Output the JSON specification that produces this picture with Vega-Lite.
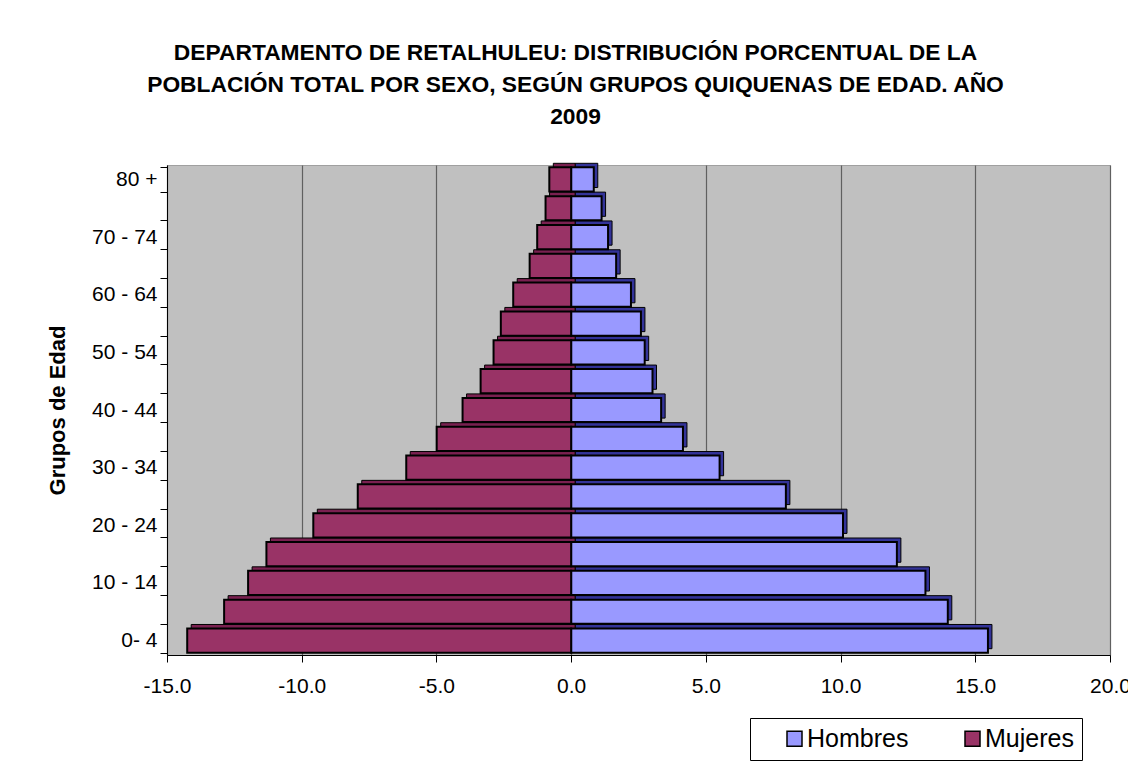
{
  "$schema": "https://vega.github.io/schema/vega-lite/v6.json",
  "width": 943,
  "height": 490,
  "autosize": {"type": "none"},
  "padding": {"left": 167, "top": 165, "right": 18, "bottom": 106},
  "background": "white",
  "config": {
    "font": "Liberation Sans",
    "view": {"fill": "#C0C0C0", "stroke": "#A0A0A0"}
  },
  "title": {
    "text": ["DEPARTAMENTO DE RETALHULEU: DISTRIBUCIÓN PORCENTUAL DE LA", "POBLACIÓN TOTAL POR SEXO, SEGÚN GRUPOS QUIQUENAS DE EDAD. AÑO", "2009"],
    "font": "Liberation Sans",
    "fontSize": 22.8,
    "fontWeight": "bold",
    "color": "black",
    "lineHeight": 32,
    "anchor": "middle",
    "dx": -63,
    "offset": 25
  },
  "data": {
    "values": [
      {"group": "0- 4", "sex": "Hombres", "value": 15.47},
      {"group": "5 - 9", "sex": "Hombres", "value": 13.98},
      {"group": "10 - 14", "sex": "Hombres", "value": 13.15},
      {"group": "15 - 19", "sex": "Hombres", "value": 12.09},
      {"group": "20 - 24", "sex": "Hombres", "value": 10.09},
      {"group": "25 - 29", "sex": "Hombres", "value": 7.97},
      {"group": "30 - 34", "sex": "Hombres", "value": 5.51},
      {"group": "35 - 39", "sex": "Hombres", "value": 4.15},
      {"group": "40 - 44", "sex": "Hombres", "value": 3.34},
      {"group": "45 - 49", "sex": "Hombres", "value": 3.02},
      {"group": "50 - 54", "sex": "Hombres", "value": 2.73},
      {"group": "55 - 59", "sex": "Hombres", "value": 2.59},
      {"group": "60 - 64", "sex": "Hombres", "value": 2.22},
      {"group": "65 - 69", "sex": "Hombres", "value": 1.67},
      {"group": "70 - 74", "sex": "Hombres", "value": 1.37},
      {"group": "75 - 79", "sex": "Hombres", "value": 1.13},
      {"group": "80 +", "sex": "Hombres", "value": 0.84},
      {"group": "0- 4", "sex": "Mujeres", "value": -14.25},
      {"group": "5 - 9", "sex": "Mujeres", "value": -12.88},
      {"group": "10 - 14", "sex": "Mujeres", "value": -11.99},
      {"group": "15 - 19", "sex": "Mujeres", "value": -11.31},
      {"group": "20 - 24", "sex": "Mujeres", "value": -9.57},
      {"group": "25 - 29", "sex": "Mujeres", "value": -7.92},
      {"group": "30 - 34", "sex": "Mujeres", "value": -6.12},
      {"group": "35 - 39", "sex": "Mujeres", "value": -4.99},
      {"group": "40 - 44", "sex": "Mujeres", "value": -4.03},
      {"group": "45 - 49", "sex": "Mujeres", "value": -3.36},
      {"group": "50 - 54", "sex": "Mujeres", "value": -2.88},
      {"group": "55 - 59", "sex": "Mujeres", "value": -2.61},
      {"group": "60 - 64", "sex": "Mujeres", "value": -2.15},
      {"group": "65 - 69", "sex": "Mujeres", "value": -1.54},
      {"group": "70 - 74", "sex": "Mujeres", "value": -1.26},
      {"group": "75 - 79", "sex": "Mujeres", "value": -0.95},
      {"group": "80 +", "sex": "Mujeres", "value": -0.81}
    ]
  },
  "encoding": {
    "y": {
      "field": "group",
      "type": "nominal",
      "scale": {
        "domain": ["80 +", "75 - 79", "70 - 74", "65 - 69", "60 - 64", "55 - 59", "50 - 54", "45 - 49", "40 - 44", "35 - 39", "30 - 34", "25 - 29", "20 - 24", "15 - 19", "10 - 14", "5 - 9", "0- 4"],
        "paddingInner": 0.16,
        "paddingOuter": 0.08
      },
      "axis": {
        "title": "Grupos de Edad",
        "titleFont": "Liberation Sans",
        "titleFontSize": 22,
        "titleFontWeight": "bold",
        "titleColor": "black",
        "titlePadding": 22,
        "labelExpr": "indexof(['0- 4','10 - 14','20 - 24','30 - 34','40 - 44','50 - 54','60 - 64','70 - 74','80 +'], datum.value) >= 0 ? datum.label : ''",
        "tickBand": "extent",
        "labelFont": "Liberation Sans",
        "labelFontSize": 21,
        "labelColor": "black",
        "labelPadding": 3,
        "domainColor": "black",
        "tickColor": "black",
        "tickSize": 7,
        "grid": false
      }
    },
    "x": {
      "field": "value",
      "type": "quantitative",
      "scale": {"domain": [-15, 20], "nice": false},
      "axis": {
        "title": null,
        "values": [-15, -10, -5, 0, 5, 10, 15, 20],
        "labelExpr": "replace(format(datum.value, '.1f'), '\u2212', '-')",
        "labelFont": "Liberation Sans",
        "labelFontSize": 21,
        "labelColor": "black",
        "labelPadding": 13,
        "domainColor": "black",
        "tickColor": "black",
        "tickSize": 7,
        "grid": true,
        "gridColor": "#606060",
        "gridWidth": 1.2,
        "labelFlush": false
      }
    }
  },
  "layer": [
    {
      "mark": {"type": "bar", "xOffset": 4, "yOffset": -4, "stroke": "black", "strokeWidth": 1},
      "encoding": {
        "color": {
          "condition": {"test": "datum.sex === 'Hombres'", "value": "#333399"},
          "value": "#7a2050"
        }
      }
    },
    {
      "mark": {"type": "bar", "stroke": "black", "strokeWidth": 2},
      "encoding": {
        "color": {
          "field": "sex",
          "type": "nominal",
          "scale": {"domain": ["Hombres", "Mujeres"], "range": ["#9999FF", "#993366"]},
          "legend": {
            "title": null,
            "orient": "none",
            "legendX": 583,
            "legendY": 553,
            "direction": "horizontal",
            "fillColor": "white",
            "strokeColor": "black",
            "padding": 8,
            "labelFont": "Liberation Sans",
            "labelFontSize": 25,
            "labelColor": "black",
            "symbolType": "square",
            "symbolSize": 225,
            "symbolStrokeColor": "black",
            "symbolStrokeWidth": 1.5,
            "symbolOpacity": 1,
            "symbolOffset": 24,
            "columnPadding": 27,
            "labelOffset": 0
          }
        }
      }
    }
  ]
}
